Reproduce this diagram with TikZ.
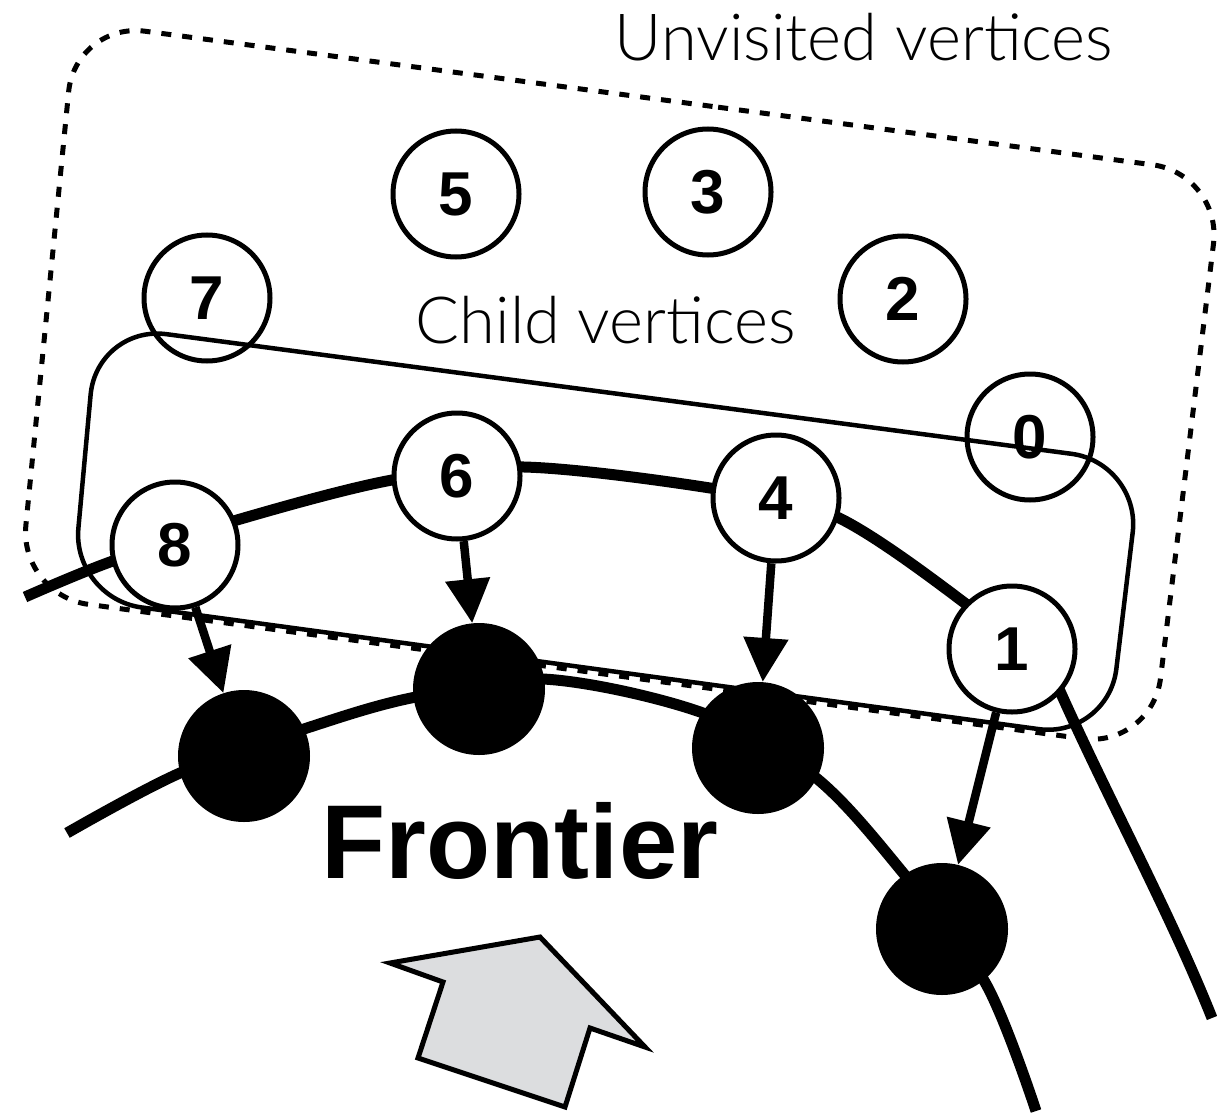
\documentclass[tikz,border=0pt]{standalone}
\usepackage{fontspec}
\setmainfont{Liberation Sans}
\newfontfamily\lightfont{Lato Light}
\usetikzlibrary{arrows.meta}
\definecolor{arrowgray}{HTML}{DCDDDF}
\begin{document}
\begin{tikzpicture}[x=1pt,y=-1pt,
  vtx/.style={circle, draw, line width=5pt, fill=white, minimum size=126pt, inner sep=0pt, font=\fontsize{62}{62}\selectfont\bfseries},
  fnode/.style={circle, fill=black, minimum size=132pt, inner sep=0pt},
  thickarc/.style={line width=11pt},
  dep/.style={line width=8.5pt, -{Triangle[length=44pt,width=43pt]}},
  boxline/.style={line width=4.5pt, rounded corners=70pt},
  dashbox/.style={line width=5pt, dash pattern=on 10pt off 11pt, rounded corners=70pt},
  lbl/.style={font=\lightfont\fontsize{65}{65}\selectfont, anchor=base, inner sep=0pt},
]
\useasboundingbox (0,0) rectangle (1217,1115);

% outer dashed region (unvisited vertices)
\draw[dashbox] (648.75,98) -- (1222,174) -- (1152,748) -- (19,595) -- (75.5,22) -- cycle;

% frontier arcs
\draw[thickarc] plot[smooth, tension=0.55] coordinates {(25,597) (110,562) (237,520) (392,480) (524,467) (710,488) (835,516) (970,607) (1012,649)};
\draw[thickarc] (1040,645) .. controls (1092,770) and (1165,900) .. (1212,1018);
\draw[thickarc] plot[smooth, tension=0.55] coordinates {(67,833) (180,773) (307,728) (411,698) (543,679) (703,713) (815,777) (904,874) (986,984) (1036,1111)};

% vertices
\node[vtx] (v5) at (456,194) {5};
\node[vtx] (v3) at (708,192) {3};
\node[vtx] (v7) at (207,298) {7};
\node[vtx] (v2) at (903,299) {2};
\node[vtx] (v0) at (1030,437) {0};
\node[vtx] (v6) at (457,476) {6};
\node[vtx] (v4) at (776,498) {4};
\node[vtx] (v8) at (175,545) {8};
\node[vtx] (v1) at (1012,649) {1};

\node[fnode] (f1) at (244,756) {};
\node[fnode] (f2) at (479,689) {};
\node[fnode] (f3) at (758,748) {};
\node[fnode] (f4) at (942,929) {};

% edges to frontier
\draw[dep] (v8) -- (f1);
\draw[dep] (v6) -- (f2);
\draw[dep] (v4) -- (f3);
\draw[dep] (v1) -- (f4);

% labels
\node[lbl] (tu) at (864,61) {Unvisited vertices};
\node[lbl] (tc) at (606,343) {Child vertices};
\node[font=\fontsize{105}{105}\selectfont\bfseries, anchor=base, inner sep=0pt] (tf) at (520,878) {Frontier};

% big gray arrow
\draw[line width=5pt, fill=arrowgray, line join=miter] (540,937) -- (645,1047) -- (590,1028) -- (565,1107) -- (418,1058) -- (443,982) -- (390,963) -- cycle;

% child vertices region
\draw[boxline] (619,394) -- (1141,463) -- (1108,738.5) -- (72,598) -- (97,325) -- cycle;
\end{tikzpicture}
\end{document}
